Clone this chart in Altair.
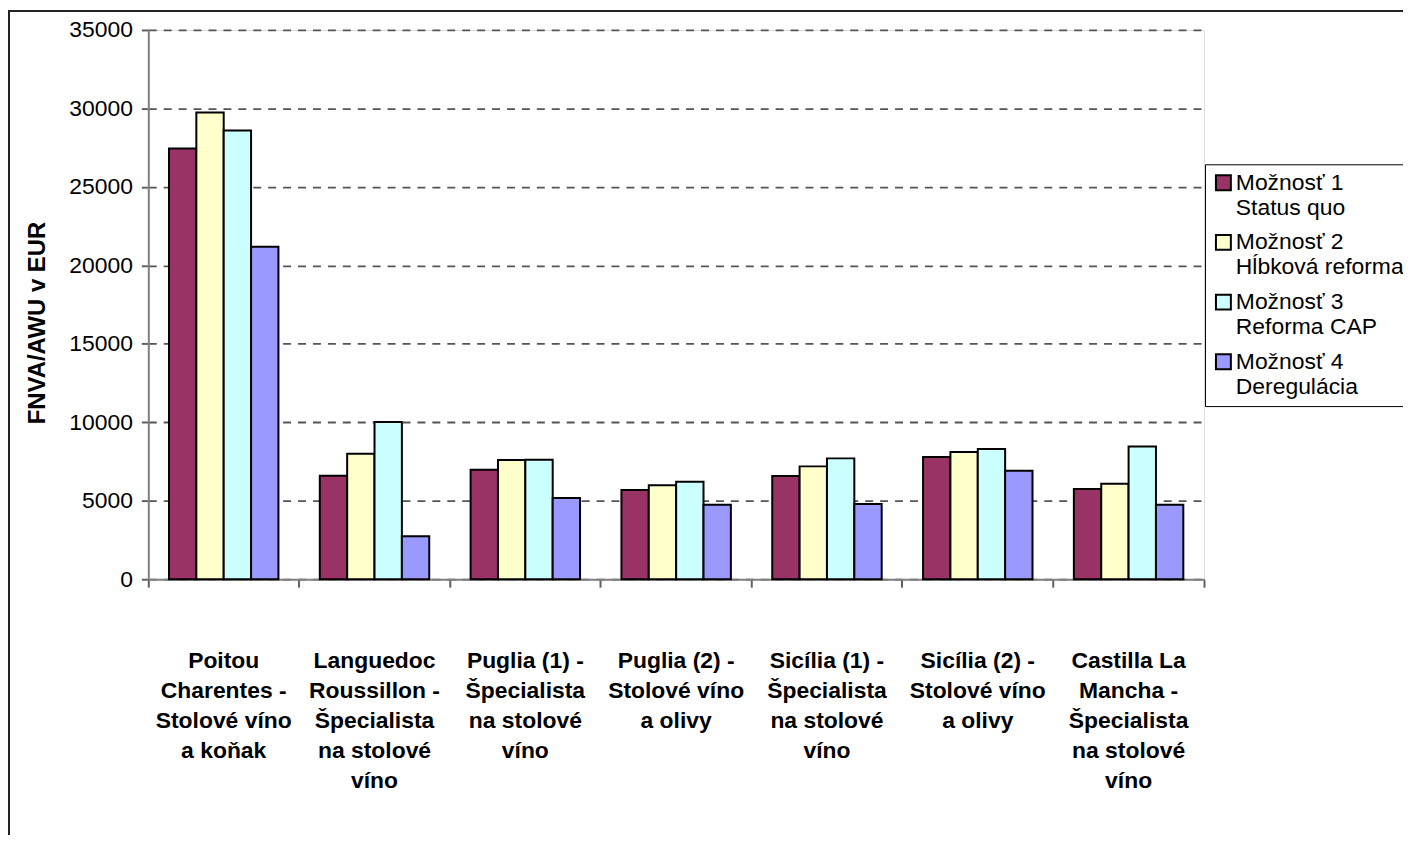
import altair as alt
import pandas as pd

categories = [
    "Poitou|Charentes -|Stolové víno|a koňak",
    "Languedoc|Roussillon -|Špecialista|na stolové|víno",
    "Puglia (1) -|Špecialista|na stolové|víno",
    "Puglia (2) -|Stolové víno|a olivy",
    "Sicília (1) -|Špecialista|na stolové|víno",
    "Sicília (2) -|Stolové víno|a olivy",
    "Castilla La|Mancha -|Špecialista|na stolové|víno",
]
series_names = [
    "Možnosť 1|Status quo",
    "Možnosť 2|Hĺbková reforma",
    "Možnosť 3|Reforma CAP",
    "Možnosť 4|Deregulácia",
]
option1 = [27450, 6590, 6970, 5690, 6570, 7780, 5750]
option2 = [29740, 7990, 7590, 5980, 7190, 8100, 6090]
option3 = [28600, 10020, 7610, 6210, 7700, 8290, 8450]
option4 = [21180, 2730, 5180, 4740, 4800, 6910, 4740]
colors = ["#993366", "#FFFFCC", "#CCFFFF", "#9999FF"]
y_ticks = [0, 5000, 10000, 15000, 20000, 25000, 30000, 35000]

rows = []
for s, vals in zip(series_names, [option1, option2, option3, option4]):
    for c, v in zip(categories, vals):
        rows.append({"region": c, "option": s, "value": v})
df = pd.DataFrame(rows)

FONT = "Liberation Sans"

bars = alt.Chart(df).mark_bar(stroke="black", strokeWidth=2).encode(
    x=alt.X(
        "region:N",
        sort=categories,
        title=None,
        scale=alt.Scale(paddingInner=0, paddingOuter=0),
        axis=alt.Axis(
            labelExpr="split(datum.label, '|')",
            labelAngle=0,
            labelFont=FONT,
            labelFontSize=23,
            labelFontWeight="bold",
            labelColor="black",
            labelLineHeight=30,
            labelBaseline="top",
            labelPadding=63,
            labelLimit=400,
            bandPosition=1,
            tickExtra=True,
            tickSize=8,
            tickColor="#606060",
            tickWidth=2,
            domainColor="#808080",
            domainWidth=2,
            grid=False,
        ),
    ),
    xOffset=alt.XOffset(
        "option:N",
        sort=series_names,
        scale=alt.Scale(paddingInner=0, paddingOuter=0.756),
    ),
    y=alt.Y(
        "value:Q",
        scale=alt.Scale(domain=[0, 35000], nice=False),
        axis=alt.Axis(
            title="FNVA/AWU v EUR",
            titleFont=FONT,
            titleFontSize=24,
            titleFontWeight="bold",
            titleColor="black",
            titleX=-111,
            titleY=294,
            titleAngle=-90,
            titleAlign="center",
            titleBaseline="middle",
            values=y_ticks,
            format="d",
            labelFont=FONT,
            labelFontSize=23,
            labelColor="black",
            labelPadding=9,
            tickSize=7,
            tickColor="#606060",
            tickWidth=2,
            domainColor="#808080",
            domainWidth=2,
            grid=True,
            gridColor="#555555",
            gridDash=[8, 7],
            gridWidth=1.8,
        ),
    ),
    color=alt.Color(
        "option:N",
        sort=series_names,
        scale=alt.Scale(domain=series_names, range=colors),
        legend=alt.Legend(
            title=None,
            orient="none",
            legendX=1062,
            legendY=135,
            labelExpr="split(datum.label, '|')",
            labelFont=FONT,
            labelFontSize=23,
            labelColor="black",
            labelBaseline="middle",
            labelOffset=1,
            labelLimit=400,
            symbolType="square",
            symbolSize=225,
            symbolStrokeColor="black",
            symbolStrokeWidth=2,
            symbolOpacity=1,
            rowPadding=11,
            padding=7,
            strokeColor="black",
            fillColor="white",
        ),
    ),
)

frame_df = pd.DataFrame([{"k": 1}])
left_line = alt.Chart(frame_df).mark_rule(color="#222222", strokeWidth=2).encode(
    x=alt.value(-140), y=alt.value(-19), y2=alt.value(900)
)
top_line = alt.Chart(frame_df).mark_rule(color="#222222", strokeWidth=2).encode(
    x=alt.value(-141), x2=alt.value(1400), y=alt.value(-19)
)

chart = (
    alt.layer(left_line, top_line, bars)
    .properties(
        width=1061,
        height=552,
        autosize=alt.AutoSizeParams(type="none"),
        padding={"left": 141, "top": 20, "right": 200, "bottom": 255},
    )
    .configure_view(stroke="#808080", strokeWidth=2)
    .configure(background="white")
)

chart.save("out.html", embed_options={"renderer": "svg", "actions": False})
